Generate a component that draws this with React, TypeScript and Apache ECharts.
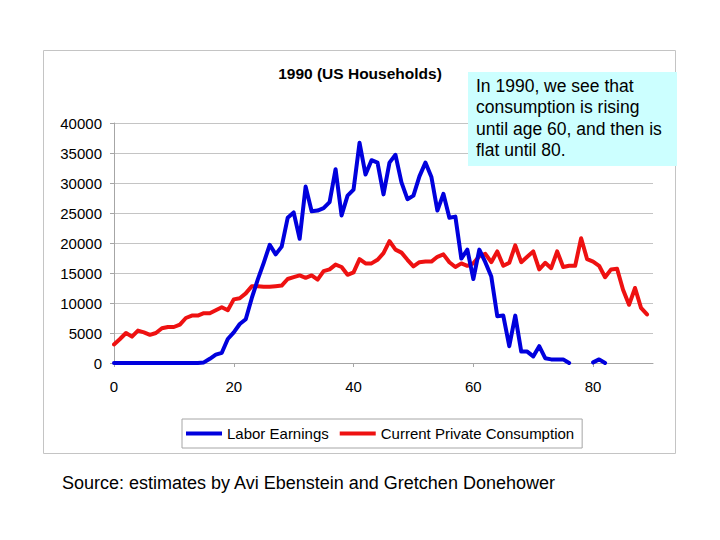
import React, { useEffect, useRef } from "react";
import * as echarts from "echarts";

const ages: number[] = Array.from({ length: 90 }, (_, i) => i);

const laborEarnings: (number | null)[] = [
  0, 0, 0, 0, 0, 0, 0, 0, 0, 0,
  0, 0, 0, 0, 0, 100, 700, 1400, 1700, 4000,
  5100, 6500, 7300, 10800, 13900, 16700, 19700, 18100, 19400, 24200,
  25100, 20700, 29400, 25300, 25400, 25800, 26800, 32300, 24600, 27900,
  28900, 36700, 31400, 33800, 33400, 28100, 33400, 34700, 30100, 27300,
  27900, 31100, 33400, 31000, 25400, 28200, 24200, 24400, 17400, 18900,
  14000, 18900, 16800, 14400, 7800, 7900, 2800, 7900, 1900, 1900,
  1100, 2800, 800, 600, 600, 600, 0, null, null, null,
  100, 600, 0, null, null, null, null, null, null, null,
];

const consumption: number[] = [
  3100, 4000, 5000, 4400, 5400, 5100, 4700, 5000, 5800, 6000,
  6000, 6400, 7500, 7900, 7900, 8300, 8300, 8800, 9300, 8800,
  10600, 10800, 11600, 12800, 12800, 12700, 12700, 12800, 12900, 14000,
  14300, 14600, 14200, 14600, 13900, 15300, 15600, 16400, 16000, 14700,
  15100, 17300, 16600, 16600, 17200, 18300, 20300, 18900, 18400, 17200,
  16100, 16800, 16900, 16900, 17700, 18100, 16800, 16000, 16600, 16200,
  16600, 17800, 18200, 16800, 18600, 16200, 16700, 19600, 16800, 17700,
  18600, 15600, 16700, 15800, 18600, 16000, 16200, 16200, 20800, 17300,
  16900, 16200, 14300, 15600, 15700, 12200, 9700, 12500, 9200, 8100,
];

const xTicks = { min: 0, max: 90, interval: 20 };
const yTicks = { min: 0, max: 40000, interval: 5000 };

const titleText = "1990 (US Households)";
const seriesNames = ["Labor Earnings", "Current Private Consumption"];
const noteLines = [
  "In 1990, we see that",
  "consumption is rising",
  "until age 60, and then is",
  "flat until 80.",
];
const sourceText = "Source: estimates by Avi Ebenstein and Gretchen Donehower";

const FONT = "'Liberation Sans', Arial, Helvetica, sans-serif";

export default function App() {
  const ref = useRef<HTMLDivElement>(null);

  useEffect(() => {
    if (!ref.current) return;
    const chart = echarts.init(ref.current, undefined, { renderer: "svg" });
    const laborData = ages.map((a, i) => [a, laborEarnings[i]]);
    const consData = ages.map((a, i) => [a, consumption[i]]);

    chart.setOption({
      animation: false,
      backgroundColor: "#ffffff",
      textStyle: { fontFamily: FONT },
      grid: { left: 114, right: 67, top: 123, bottom: 177, containLabel: false },
      xAxis: {
        type: "value",
        min: xTicks.min,
        max: xTicks.max,
        interval: xTicks.interval,
        axisLine: { show: true, lineStyle: { color: "#a6a6a6", width: 1 } },
        axisTick: { show: true, length: 4, lineStyle: { color: "#a6a6a6" } },
        axisLabel: {
          showMaxLabel: false,
          margin: 16,
          fontSize: 15,
          color: "#000",
          fontFamily: FONT,
          formatter: (v: number) => String(v),
        },
        splitLine: { show: false },
      },
      yAxis: {
        type: "value",
        min: yTicks.min,
        max: yTicks.max,
        interval: yTicks.interval,
        axisLine: { show: true, lineStyle: { color: "#a6a6a6", width: 1 } },
        axisTick: { show: true, length: 4, lineStyle: { color: "#a6a6a6" } },
        axisLabel: {
          margin: 12,
          fontSize: 15,
          color: "#000",
          fontFamily: FONT,
          formatter: (v: number) => String(v),
        },
        splitLine: { show: true, lineStyle: { color: "#c4c4c4", width: 1 } },
      },
      legend: {
        left: 182,
        top: 419,
        orient: "horizontal",
        borderColor: "#a6a6a6",
        borderWidth: 1,
        padding: [7, 8, 7, 4],
        itemGap: 11,
        itemWidth: 36,
        itemHeight: 4,
        icon: "rect",
        textStyle: { fontSize: 15, color: "#000", fontFamily: FONT },
        data: seriesNames,
      },
      series: [
        {
          name: seriesNames[0],
          type: "line",
          data: laborData,
          showSymbol: false,
          symbol: "none",
          connectNulls: false,
          color: "#0000dd",
          lineStyle: { width: 4, color: "#0000dd", join: "round", cap: "round" },
          z: 3,
        },
        {
          name: seriesNames[1],
          type: "line",
          data: consData,
          showSymbol: false,
          symbol: "none",
          color: "#ee1111",
          lineStyle: { width: 4, color: "#ee1111", join: "round", cap: "round" },
          z: 2,
        },
      ],
      graphic: [
        {
          type: "rect",
          shape: { x: 43.5, y: 50.5, width: 632, height: 403 },
          style: { fill: "none", stroke: "#c4c4c4", lineWidth: 1 },
          z: -10,
          silent: true,
        },
        {
          type: "text",
          x: 360,
          y: 73,
          style: {
            text: titleText,
            fill: "#000",
            font: `bold 15.5px ${FONT}`,
            textAlign: "center",
            textVerticalAlign: "middle",
          },
          silent: true,
        },
        {
          type: "rect",
          shape: { x: 468, y: 72, width: 209, height: 94 },
          style: { fill: "#ccffff", stroke: "none" },
          z: 100,
          silent: true,
        },
        {
          type: "text",
          x: 476,
          y: 75,
          z: 101,
          style: {
            text: noteLines.join("\n"),
            fill: "#000",
            font: `17.5px ${FONT}`,
            lineHeight: 21.5,
            textAlign: "left",
            textVerticalAlign: "top",
          },
          silent: true,
        },
        {
          type: "text",
          x: 62,
          y: 483,
          style: {
            text: sourceText,
            fill: "#000",
            font: `18px ${FONT}`,
            textAlign: "left",
            textVerticalAlign: "middle",
          },
          silent: true,
        },
      ],
    });

    return () => {
      chart.dispose();
    };
  }, []);

  return (
    <div
      ref={ref}
      style={{
        position: "fixed",
        left: 0,
        top: 0,
        width: 720,
        height: 540,
        background: "#ffffff",
      }}
    />
  );
}
